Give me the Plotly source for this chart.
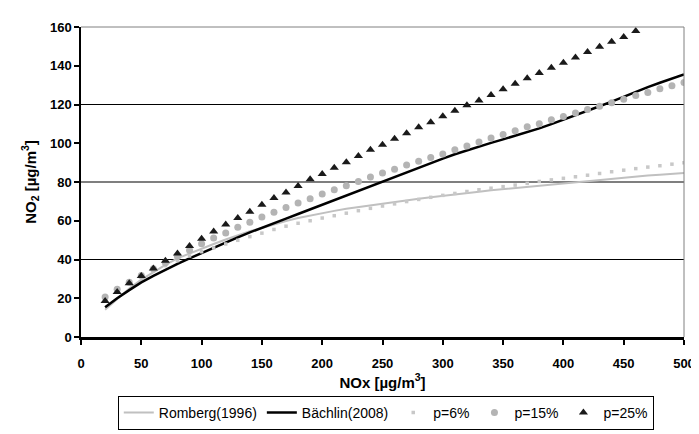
import plotly.graph_objects as go

# ---- data ----
X_VALUES = [20, 30, 40, 50, 60, 70, 80, 90, 100, 110, 120, 130, 140, 150, 160, 170,
            180, 190, 200, 210, 220, 230, 240, 250, 260, 270, 280, 290, 300, 310, 320,
            330, 340, 350, 360, 370, 380, 390, 400, 410, 420, 430, 440, 450, 460, 470,
            480, 490, 500]

ROMBERG = [14.1, 19.8, 25.0, 29.6, 33.6, 37.2, 40.6, 43.2, 45.7, 48.0, 50.3, 52.5,
           54.6, 56.3, 58.2, 59.9, 61.4, 62.7, 64.0, 65.1, 66.2, 67.1, 68.0, 68.9,
           69.7, 70.5, 71.3, 72.1, 72.9, 73.6, 74.3, 75.0, 75.7, 76.3, 76.9, 77.6,
           78.2, 78.8, 79.4, 80.0, 80.6, 81.2, 81.8, 82.4, 82.9, 83.4, 83.8, 84.2, 84.6]

BAECHLIN = [15.3, 20.0, 24.2, 28.2, 31.6, 34.8, 37.8, 40.6, 43.4, 46.1, 48.8, 51.4,
            54.0, 56.5, 58.8, 61.1, 63.5, 65.9, 68.3, 70.7, 73.1, 75.5, 77.9, 80.3,
            82.8, 85.2, 87.6, 89.9, 92.1, 94.3, 96.4, 98.4, 100.2, 102.0, 103.8, 105.7,
            107.7, 109.9, 112.1, 114.4, 116.7, 119.1, 121.5, 124.1, 126.7, 129.0,
            131.2, 133.4, 135.5]

P6 = [20.5, 24.3, 27.8, 31.0, 34.0, 36.8, 39.4, 41.8, 44.0, 46.0, 48.0, 49.9, 51.8,
      53.6, 55.5, 57.2, 58.7, 60.0, 61.4, 62.6, 63.9, 65.2, 66.4, 67.6, 68.7, 69.9,
      71.0, 72.1, 73.1, 74.1, 75.1, 76.0, 76.8, 77.6, 78.4, 79.3, 80.3, 81.1, 81.9,
      82.7, 83.5, 84.4, 85.3, 86.1, 86.9, 87.7, 88.4, 89.2, 89.9]

P15 = [20.6, 24.6, 28.2, 31.8, 35.2, 38.3, 41.5, 44.8, 48.1, 51.1, 53.7, 56.7, 59.2,
       61.9, 64.4, 66.9, 69.2, 71.3, 73.8, 76.0, 78.1, 80.3, 82.6, 84.6, 86.6, 88.8,
       90.7, 92.7, 94.5, 96.7, 98.6, 100.6, 102.7, 104.5, 106.5, 108.5, 110.1, 112.1,
       113.8, 115.6, 117.4, 119.1, 120.9, 122.7, 124.7, 126.2, 128.1, 129.7, 131.3]

X_P25 = [20, 30, 40, 50, 60, 70, 80, 90, 100, 110, 120, 130, 140, 150, 160, 170, 180,
         190, 200, 210, 220, 230, 240, 250, 260, 270, 280, 290, 300, 310, 320, 330,
         340, 350, 360, 370, 380, 390, 400, 410, 420, 430, 440, 450, 460]
P25 = [18.6, 23.2, 27.7, 31.5, 35.3, 39.3, 43.1, 47.0, 50.7, 54.4, 58.1, 61.4, 64.7,
       68.2, 71.8, 74.6, 78.0, 81.4, 84.1, 87.4, 90.2, 93.4, 96.7, 99.2, 102.3, 105.2,
       108.2, 110.8, 113.9, 116.8, 119.6, 122.1, 124.9, 127.9, 130.7, 133.5, 136.3,
       139.0, 141.5, 144.3, 147.1, 149.8, 152.4, 154.9, 157.9]

GRID_Y = [40, 80, 120]
X_TICKS = [0, 50, 100, 150, 200, 250, 300, 350, 400, 450, 500]
Y_TICKS = [0, 20, 40, 60, 80, 100, 120, 140, 160]

FONT = "Arial, Liberation Sans, sans-serif"

fig = go.Figure()
fig.add_trace(go.Scatter(x=X_VALUES, y=ROMBERG, mode="lines", name="Romberg(1996)",
                         line=dict(color="#c0c0c0", width=2)))
fig.add_trace(go.Scatter(x=X_VALUES, y=BAECHLIN, mode="lines", name="Bächlin(2008)",
                         line=dict(color="#000000", width=2.5)))
fig.add_trace(go.Scatter(x=X_VALUES, y=P6, mode="markers", name="p=6%",
                         marker=dict(symbol="square", size=3.5, color="#c8c8c8")))
fig.add_trace(go.Scatter(x=X_VALUES, y=P15, mode="markers", name="p=15%",
                         marker=dict(symbol="circle", size=7, color="#b4b4b4")))
fig.add_trace(go.Scatter(x=X_P25, y=P25, mode="markers", name="p=25%",
                         marker=dict(symbol="triangle-up", size=8, color="#1a1a1a")))

shapes = []
for gy in GRID_Y:
    shapes.append(dict(type="line", xref="paper", yref="y", x0=0, x1=1, y0=gy, y1=gy,
                       line=dict(color="#000000", width=1.2), layer="below"))
# gray top and right frame
shapes.append(dict(type="line", xref="paper", yref="paper", x0=0, x1=1, y0=1, y1=1,
                   line=dict(color="#808080", width=1)))
shapes.append(dict(type="line", xref="paper", yref="paper", x0=1, x1=1, y0=0, y1=1,
                   line=dict(color="#808080", width=1)))

fig.update_layout(
    width=699, height=434,
    margin=dict(l=73, r=12, t=15, b=97),
    paper_bgcolor="white", plot_bgcolor="white",
    font=dict(family=FONT, color="black"),
    shapes=shapes,
    showlegend=True,
    legend=dict(orientation="h", x=0.061, y=-0.19, xanchor="left", yanchor="top",
                bordercolor="black", borderwidth=1, font=dict(size=14, family=FONT),
                bgcolor="white"),
    xaxis=dict(range=[0, 500], tickvals=X_TICKS,
               ticktext=[f"<b>{v}</b>" for v in X_TICKS],
               ticks="outside", ticklen=5,
               tickcolor="black", tickwidth=1.5, showline=True, linecolor="black",
               linewidth=2.5, showgrid=False, zeroline=False,
               tickfont=dict(size=13, family=FONT),
               ticklabelstandoff=8,
               title=dict(text="<b>NOx [µg/m<sup>3</sup>]</b>",
                          font=dict(size=15), standoff=6)),
    yaxis=dict(range=[0, 160], tickvals=Y_TICKS,
               ticktext=[f"<b>{v}</b>" for v in Y_TICKS],
               ticks="outside", ticklen=5,
               tickcolor="black", tickwidth=1.5, showline=True, linecolor="black",
               linewidth=1.5, showgrid=False, zeroline=False,
               tickfont=dict(size=13, family=FONT),
               title=dict(text="<b>NO<sub>2</sub> [µg/m<sup>3</sup>]</b>",
                          font=dict(size=15), standoff=10)),
)

fig.write_html("out.html")
